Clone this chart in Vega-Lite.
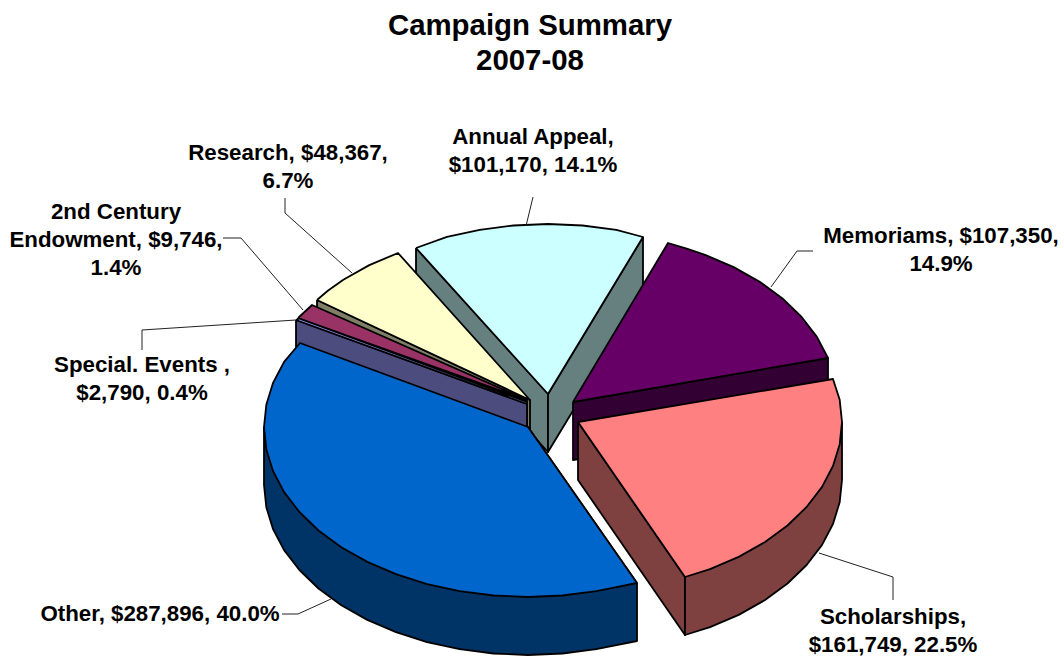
{"$schema":"https://vega.github.io/schema/vega-lite/v6.json","width":1064,"height":658,"padding":0,"autosize":"none","background":"white","view":{"stroke":null},
"title":{"text":["Campaign Summary","2007-08"],"font":"Liberation Sans","fontWeight":"bold","fontSize":29.4,"lineHeight":35,"color":"black","anchor":"middle","dx":-2,"baseline":"top","dy":80},
"datasets":{
"faces":[
{"f":"Annual Appeal wall left","i":0,"x":416,"y":248},{"f":"Annual Appeal wall left","i":1,"x":548,"y":394},{"f":"Annual Appeal wall left","i":2,"x":548,"y":452},{"f":"Annual Appeal wall left","i":3,"x":416,"y":306},{"f":"Annual Appeal wall left","i":4,"x":416,"y":248},
{"f":"Annual Appeal wall right","i":0,"x":643,"y":237},{"f":"Annual Appeal wall right","i":1,"x":548,"y":394},{"f":"Annual Appeal wall right","i":2,"x":548,"y":452},{"f":"Annual Appeal wall right","i":3,"x":643,"y":295},{"f":"Annual Appeal wall right","i":4,"x":643,"y":237},
{"f":"Annual Appeal top","i":0,"x":416,"y":248},{"f":"Annual Appeal top","i":1,"x":447,"y":236.9},{"f":"Annual Appeal top","i":2,"x":479.7,"y":229.8},{"f":"Annual Appeal top","i":3,"x":513.5,"y":225.5},{"f":"Annual Appeal top","i":4,"x":548,"y":224},{"f":"Annual Appeal top","i":5,"x":582.5,"y":225.5},{"f":"Annual Appeal top","i":6,"x":616.3,"y":229.8},{"f":"Annual Appeal top","i":7,"x":643,"y":237},{"f":"Annual Appeal top","i":8,"x":548,"y":394},{"f":"Annual Appeal top","i":9,"x":416,"y":248},
{"f":"Memoriams wall","i":0,"x":573,"y":402},{"f":"Memoriams wall","i":1,"x":828,"y":358},{"f":"Memoriams wall","i":2,"x":828,"y":416},{"f":"Memoriams wall","i":3,"x":573,"y":460},{"f":"Memoriams wall","i":4,"x":573,"y":402},
{"f":"Memoriams top","i":0,"x":573,"y":402},{"f":"Memoriams top","i":1,"x":668,"y":243},{"f":"Memoriams top","i":1.5,"x":686.7,"y":248.6},{"f":"Memoriams top","i":2,"x":705,"y":254.8},{"f":"Memoriams top","i":3,"x":733.7,"y":267.1},{"f":"Memoriams top","i":4,"x":759.7,"y":281.8},{"f":"Memoriams top","i":5,"x":782.5,"y":298.5},{"f":"Memoriams top","i":6,"x":801.6,"y":317},{"f":"Memoriams top","i":7,"x":816.9,"y":336.9},{"f":"Memoriams top","i":8,"x":828,"y":358},{"f":"Memoriams top","i":9,"x":573,"y":402},
{"f":"Scholarships wall left","i":0,"x":578,"y":422},{"f":"Scholarships wall left","i":1,"x":685,"y":577},{"f":"Scholarships wall left","i":2,"x":685,"y":635},{"f":"Scholarships wall left","i":3,"x":578,"y":480},{"f":"Scholarships wall left","i":4,"x":578,"y":422},
{"f":"Scholarships wall outer","i":0,"x":842,"y":422},{"f":"Scholarships wall outer","i":1,"x":842,"y":480},{"f":"Scholarships wall outer","i":2,"x":839.7,"y":502.2},{"f":"Scholarships wall outer","i":3,"x":833,"y":524},{"f":"Scholarships wall outer","i":4,"x":821.9,"y":545.1},{"f":"Scholarships wall outer","i":5,"x":806.6,"y":565},{"f":"Scholarships wall outer","i":6,"x":787.5,"y":583.5},{"f":"Scholarships wall outer","i":7,"x":764.7,"y":600.2},{"f":"Scholarships wall outer","i":8,"x":738.7,"y":614.9},{"f":"Scholarships wall outer","i":9,"x":710,"y":627.2},{"f":"Scholarships wall outer","i":10,"x":685,"y":635},{"f":"Scholarships wall outer","i":11,"x":685,"y":577},{"f":"Scholarships wall outer","i":12,"x":842,"y":422},
{"f":"Scholarships top","i":0,"x":578,"y":422},{"f":"Scholarships top","i":1,"x":833,"y":379},{"f":"Scholarships top","i":2,"x":839.7,"y":399.8},{"f":"Scholarships top","i":3,"x":842,"y":422},{"f":"Scholarships top","i":4,"x":839.7,"y":444.2},{"f":"Scholarships top","i":5,"x":833,"y":466},{"f":"Scholarships top","i":6,"x":821.9,"y":487.1},{"f":"Scholarships top","i":7,"x":806.6,"y":507},{"f":"Scholarships top","i":8,"x":787.5,"y":525.5},{"f":"Scholarships top","i":9,"x":764.7,"y":542.2},{"f":"Scholarships top","i":10,"x":738.7,"y":556.9},{"f":"Scholarships top","i":11,"x":710,"y":569.2},{"f":"Scholarships top","i":12,"x":685,"y":577},{"f":"Scholarships top","i":13,"x":578,"y":422},
{"f":"Research wall","i":0,"x":317,"y":300},{"f":"Research wall","i":1,"x":530,"y":400},{"f":"Research wall","i":2,"x":530,"y":458},{"f":"Research wall","i":3,"x":317,"y":358},{"f":"Research wall","i":4,"x":317,"y":300},
{"f":"Research top","i":0,"x":317,"y":300},{"f":"Research top","i":0.5,"x":327.8,"y":290.7},{"f":"Research top","i":1,"x":343.3,"y":279.8},{"f":"Research top","i":2,"x":369.3,"y":265.1},{"f":"Research top","i":3,"x":398,"y":253},{"f":"Research top","i":4,"x":530,"y":400},{"f":"Research top","i":5,"x":317,"y":300},
{"f":"2nd Century wall","i":0,"x":298,"y":318},{"f":"2nd Century wall","i":1,"x":527,"y":401},{"f":"2nd Century wall","i":2,"x":527,"y":459},{"f":"2nd Century wall","i":3,"x":298,"y":376},{"f":"2nd Century wall","i":4,"x":298,"y":318},
{"f":"2nd Century top","i":0,"x":298,"y":318},{"f":"2nd Century top","i":1,"x":312,"y":305},{"f":"2nd Century top","i":2,"x":527,"y":400},{"f":"2nd Century top","i":3,"x":298,"y":318},
{"f":"Special Events wall","i":0,"x":296,"y":320},{"f":"Special Events wall","i":1,"x":527,"y":404},{"f":"Special Events wall","i":2,"x":527,"y":462},{"f":"Special Events wall","i":3,"x":296,"y":378},{"f":"Special Events wall","i":4,"x":296,"y":320},
{"f":"Special Events top","i":0,"x":296,"y":320},{"f":"Special Events top","i":1,"x":299,"y":318.5},{"f":"Special Events top","i":2,"x":527,"y":402},{"f":"Special Events top","i":3,"x":527,"y":404},{"f":"Special Events top","i":4,"x":296,"y":320},
{"f":"Other wall","i":0,"x":264,"y":427},{"f":"Other wall","i":1,"x":264,"y":485},{"f":"Other wall","i":2,"x":266.3,"y":507.2},{"f":"Other wall","i":3,"x":273,"y":529},{"f":"Other wall","i":4,"x":284.1,"y":550.1},{"f":"Other wall","i":5,"x":299.4,"y":570},{"f":"Other wall","i":6,"x":318.5,"y":588.5},{"f":"Other wall","i":7,"x":341.3,"y":605.2},{"f":"Other wall","i":8,"x":367.3,"y":619.9},{"f":"Other wall","i":9,"x":396,"y":632.2},{"f":"Other wall","i":10,"x":427,"y":642.1},{"f":"Other wall","i":11,"x":459.7,"y":649.2},{"f":"Other wall","i":12,"x":493.5,"y":653.5},{"f":"Other wall","i":13,"x":528,"y":655},{"f":"Other wall","i":14,"x":562.5,"y":653.5},{"f":"Other wall","i":15,"x":596.3,"y":649.2},{"f":"Other wall","i":15.5,"x":614,"y":645.7},{"f":"Other wall","i":16,"x":637,"y":641},{"f":"Other wall","i":17,"x":637,"y":583},{"f":"Other wall","i":18,"x":528,"y":427},{"f":"Other wall","i":19,"x":264,"y":427},
{"f":"Other top","i":0,"x":637,"y":583},{"f":"Other top","i":0.5,"x":614,"y":587.7},{"f":"Other top","i":1,"x":596.3,"y":591.2},{"f":"Other top","i":2,"x":562.5,"y":595.5},{"f":"Other top","i":3,"x":528,"y":597},{"f":"Other top","i":4,"x":493.5,"y":595.5},{"f":"Other top","i":5,"x":459.7,"y":591.2},{"f":"Other top","i":6,"x":427,"y":584.1},{"f":"Other top","i":7,"x":396,"y":574.2},{"f":"Other top","i":8,"x":367.3,"y":561.9},{"f":"Other top","i":9,"x":341.3,"y":547.2},{"f":"Other top","i":10,"x":318.5,"y":530.5},{"f":"Other top","i":11,"x":299.4,"y":512},{"f":"Other top","i":12,"x":284.1,"y":492.1},{"f":"Other top","i":13,"x":273,"y":471},{"f":"Other top","i":14,"x":266.3,"y":449.2},{"f":"Other top","i":15,"x":264,"y":427},{"f":"Other top","i":16,"x":266.3,"y":404.8},{"f":"Other top","i":17,"x":273,"y":383},{"f":"Other top","i":18,"x":284.1,"y":361.9},{"f":"Other top","i":19,"x":300,"y":343},{"f":"Other top","i":20,"x":528,"y":427},{"f":"Other top","i":21,"x":637,"y":583}
],
"leaders":[
{"s":"Annual Appeal","i":0,"x":533,"y":197},{"s":"Annual Appeal","i":1,"x":526,"y":226},
{"s":"Research","i":0,"x":285,"y":198},{"s":"Research","i":1,"x":285,"y":213},{"s":"Research","i":2,"x":352,"y":273},
{"s":"2nd Century","i":0,"x":223,"y":238},{"s":"2nd Century","i":1,"x":241,"y":238},{"s":"2nd Century","i":2,"x":303,"y":310},
{"s":"Special Events","i":0,"x":142,"y":350},{"s":"Special Events","i":1,"x":142,"y":330},{"s":"Special Events","i":2,"x":296,"y":320},
{"s":"Memoriams","i":0,"x":813,"y":251},{"s":"Memoriams","i":1,"x":797,"y":251},{"s":"Memoriams","i":2,"x":771,"y":287},
{"s":"Scholarships","i":0,"x":893,"y":600},{"s":"Scholarships","i":1,"x":893,"y":577},{"s":"Scholarships","i":2,"x":819,"y":553},
{"s":"Other","i":0,"x":282,"y":614},{"s":"Other","i":1,"x":298,"y":614},{"s":"Other","i":2,"x":331,"y":599}
],
"labels":[
{"name":"Annual Appeal","amount":101170,"share":14.1,"label":"Annual Appeal,\n$101,170, 14.1%","lx":533,"ly":137},
{"name":"Memoriams","amount":107350,"share":14.9,"label":"Memoriams, $107,350,\n14.9%","lx":941,"ly":236},
{"name":"Scholarships","amount":161749,"share":22.5,"label":"Scholarships,\n$161,749, 22.5%","lx":893,"ly":617},
{"name":"Other","amount":287896,"share":40.0,"label":"Other, $287,896, 40.0%","lx":160,"ly":614},
{"name":"Special. Events","amount":2790,"share":0.4,"label":"Special. Events ,\n$2,790, 0.4%","lx":142,"ly":365},
{"name":"2nd Century Endowment","amount":9746,"share":1.4,"label":"2nd Century\nEndowment, $9,746,\n1.4%","lx":116,"ly":212},
{"name":"Research","amount":48367,"share":6.7,"label":"Research, $48,367,\n6.7%","lx":288,"ly":153}
]},
"layer":[
{"data":{"name":"faces"},"mark":{"type":"line","stroke":"black","strokeWidth":1.8,"strokeJoin":"round","clip":false},
"encoding":{"x":{"field":"x","type":"quantitative","scale":{"domain":[0,1064],"nice":false,"zero":false},"axis":null},
"y":{"field":"y","type":"quantitative","scale":{"domain":[658,0],"nice":false,"zero":false},"axis":null},
"order":{"field":"i","type":"quantitative"},"detail":{"field":"f"},
"fill":{"field":"f","type":"nominal","legend":null,"sort":null,"scale":{
"domain":["Annual Appeal wall left","Annual Appeal wall right","Annual Appeal top","Memoriams wall","Memoriams top","Scholarships wall left","Scholarships wall outer","Scholarships top","Research wall","Research top","2nd Century wall","2nd Century top","Special Events wall","Special Events top","Other wall","Other top"],
"range":["#667F7F","#667F7F","#CCFFFF","#330033","#660066","#7F4040","#7F4040","#FF8080","#7F7F66","#FFFFCC","#4C1933","#993366","#4C4C7F","#9999FF","#003366","#0066CC"]}}}},
{"data":{"name":"leaders"},"mark":{"type":"line","stroke":"#222222","strokeWidth":1},
"encoding":{"x":{"field":"x","type":"quantitative","scale":{"domain":[0,1064],"nice":false,"zero":false},"axis":null},
"y":{"field":"y","type":"quantitative","scale":{"domain":[658,0],"nice":false,"zero":false},"axis":null},
"order":{"field":"i","type":"quantitative"},"detail":{"field":"s"}}},
{"data":{"name":"labels"},"mark":{"type":"text","font":"Liberation Sans","fontWeight":"bold","fontSize":22.3,"lineHeight":28,"lineBreak":"\n","align":"center","baseline":"middle","color":"black"},
"encoding":{"x":{"field":"lx","type":"quantitative","scale":{"domain":[0,1064],"nice":false,"zero":false},"axis":null},
"y":{"field":"ly","type":"quantitative","scale":{"domain":[658,0],"nice":false,"zero":false},"axis":null},
"text":{"field":"label"}}}
]}
